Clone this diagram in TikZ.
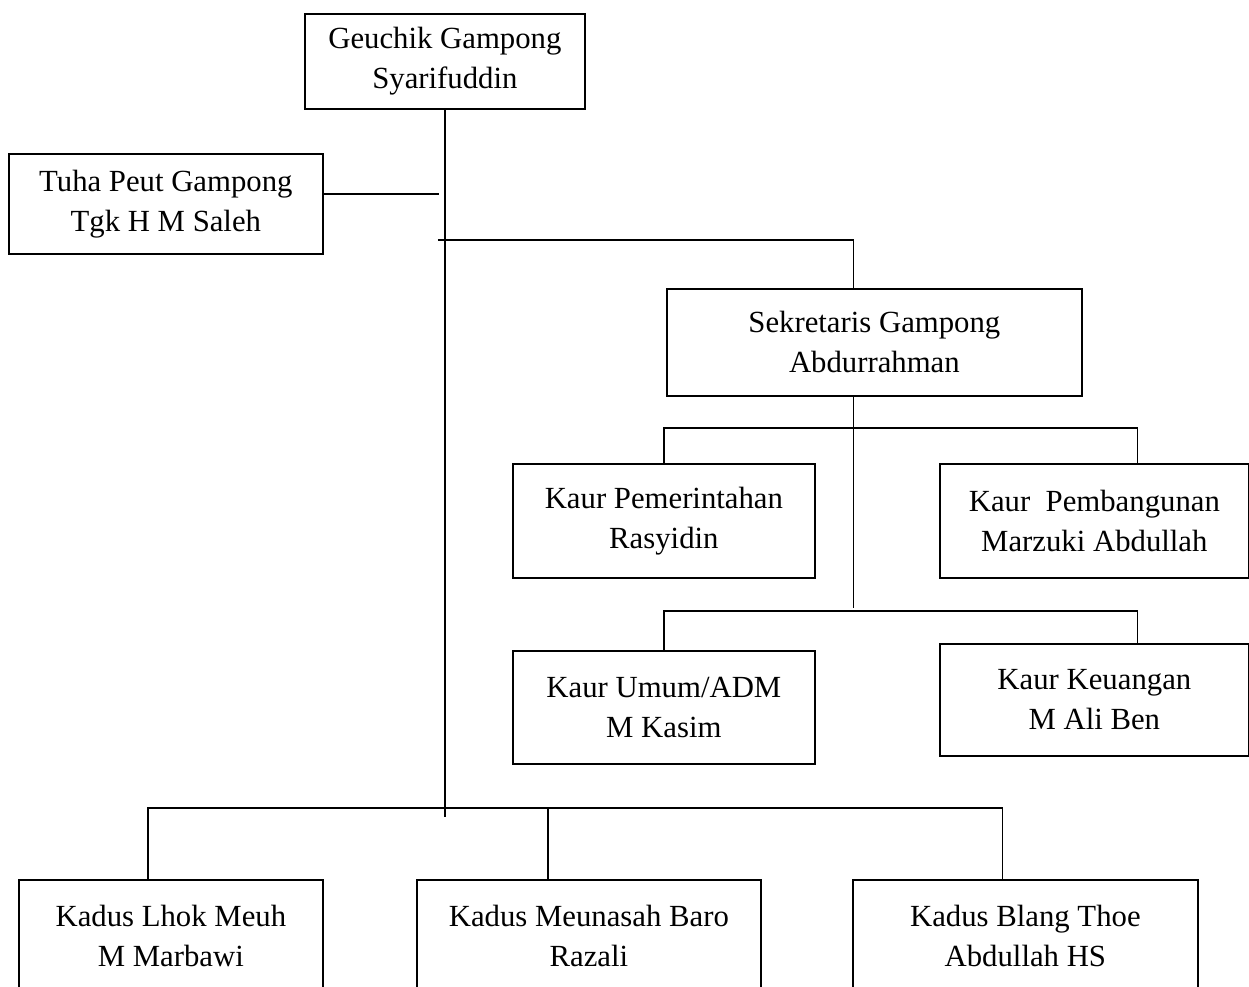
\documentclass[tikz,border=0pt]{standalone}
\usepackage{fontspec}
\setmainfont{Liberation Serif}
\usetikzlibrary{calc}

\begin{document}
\begin{tikzpicture}[x=0.02cm, y=-0.02cm,
  jabatan/.style={draw, line width=1pt, align=center, anchor=north west, inner sep=0pt,
    font=\fontsize{17.5}{22.7}\selectfont},
  garis/.style={line width=0.9pt}]

  \def\px{0.02cm}
  \useasboundingbox (0,0) rectangle (1249,987);

  % geuchik dan tuha peut
  \node[jabatan, minimum width=280*\px, minimum height=95*\px] (geuchik) at (304,13) {Geuchik Gampong\\Syarifuddin};
  \node[jabatan, minimum width=314*\px, minimum height=100*\px] (tuhapeut) at (8,153) {Tuha Peut Gampong\\Tgk H M Saleh};

  % sekretaris dan para kaur
  \node[jabatan, minimum width=415*\px, minimum height=107*\px] (sekdes) at (666,288) {Sekretaris Gampong\\Abdurrahman};
  \node[jabatan, minimum width=302*\px, minimum height=114*\px] (kaur1) at (512,463) {Kaur Pemerintahan\\Rasyidin};
  \node[jabatan, minimum width=309*\px, minimum height=114*\px] (kaur2) at (939,463) {Kaur\ \ Pembangunan\\Marzuki Abdullah};
  \node[jabatan, minimum width=302*\px, minimum height=113*\px] (kaur3) at (512,650) {Kaur Umum/ADM\\M Kasim};
  \node[jabatan, minimum width=309*\px, minimum height=112*\px] (kaur4) at (939,643) {Kaur Keuangan\\M Ali Ben};

  % kepala dusun (terpotong di bawah)
  \node[jabatan, minimum width=304*\px, minimum height=112*\px] (kadus1) at (18,879) {Kadus Lhok Meuh\\M Marbawi};
  \node[jabatan, minimum width=344*\px, minimum height=112*\px] (kadus2) at (416,879) {Kadus Meunasah Baro\\Razali};
  \node[jabatan, minimum width=345*\px, minimum height=112*\px] (kadus3) at (852,879) {Kadus Blang Thoe\\Abdullah HS};

  % garis komando
  \draw[garis] (geuchik.south) -- ++(0,707);
  \draw[garis] ($(tuhapeut.east)+(0,-10)$) -- ++(115,0);
  \draw[garis] (geuchik.south) ++(-7,130) -| ($(sekdes.north)+(-21,0)$);
  \draw[garis] ($(sekdes.south)+(-21,0)$) -- ++(0,211);
  \draw[garis] (kaur1.north) -- ++(0,-35) -| ($(kaur2.north)+(43,0)$);
  \draw[garis] (kaur3.north) -- ++(0,-39) -| ($(kaur4.north)+(43,0)$);
  \draw[garis] ($(kadus1.north)+(-23,0)$) -- ++(0,-71) -| ($(kadus3.north)+(-23,0)$);
  \draw[garis] ($(kadus2.north)+(-41,0)$) -- ++(0,-71);

\end{tikzpicture}
\end{document}
